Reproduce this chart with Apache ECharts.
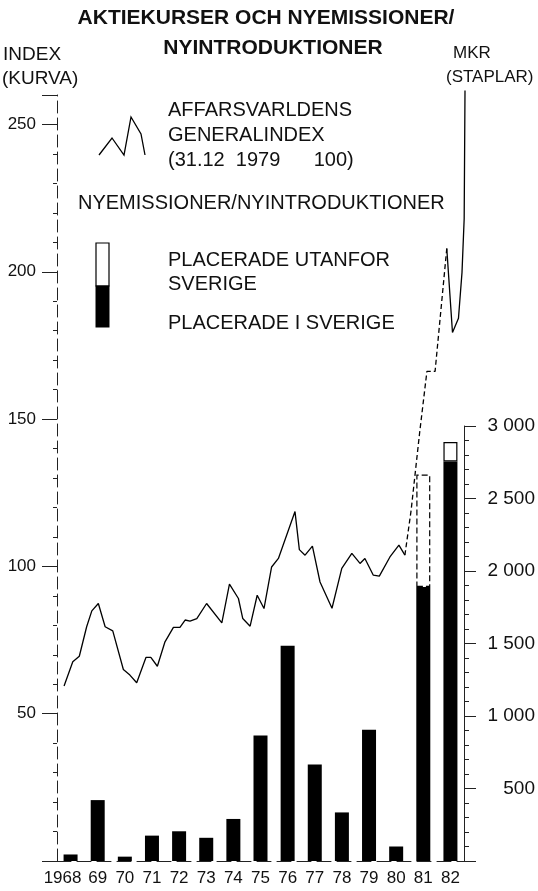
<!DOCTYPE html>
<html>
<head>
<meta charset="utf-8">
<script src="https://cdn.jsdelivr.net/npm/echarts@6/dist/echarts.min.js"></script>
<style>
  html, body { margin: 0; padding: 0; background: #fff; }
  #chart { width: 538px; height: 891px; }
</style>
</head>
<body>
<div id="chart"></div>
<script>
// staplar (MKR), placerade i / utanfor Sverige
const years = ['1968', '69', '70', '71', '72', '73', '74', '75', '76', '77', '78', '79', '80', '81', '82'];
const placedInSweden = [45, 420, 30, 175, 205, 160, 290, 865, 1485, 665, 335, 905, 100, 1890, 2755];
const placedAbroad = [0, 0, 0, 0, 0, 0, 0, 0, 0, 0, 0, 0, 0, 775, 135];

// Affarsvarldens generalindex (kurva), [ar, index]
const indexCurve = [
  [1968.26, 59.4], [1968.58, 67.6], [1968.82, 69.5], [1969.09, 79.5], [1969.28, 84.9],
  [1969.52, 87.4], [1969.77, 79.5], [1970.05, 78.1], [1970.44, 65.0], [1970.68, 63.1],
  [1970.93, 60.5], [1971.27, 69.1], [1971.45, 69.1], [1971.69, 66.1], [1971.97, 74.4],
  [1972.28, 79.3], [1972.52, 79.3], [1972.71, 81.8], [1972.89, 81.4], [1973.14, 82.3],
  [1973.50, 87.4], [1974.06, 80.8], [1974.34, 94.0], [1974.67, 89.1], [1974.83, 82.3],
  [1975.10, 79.7], [1975.36, 90.2], [1975.61, 85.7], [1975.89, 99.8], [1976.14, 102.7],
  [1976.75, 118.6], [1976.91, 105.7], [1977.12, 103.8], [1977.39, 106.9], [1977.67, 94.7],
  [1978.11, 85.8], [1978.47, 99.3], [1978.84, 104.4], [1979.14, 101.0], [1979.32, 102.7],
  [1979.63, 97.0], [1979.85, 96.7], [1980.24, 103.2], [1980.57, 107.2], [1980.79, 103.8],
  [1981.02, 119.1], [1981.33, 145.2], [1981.60, 166.2], [1981.90, 166.2], [1982.33, 207.9],
  [1982.54, 179.4], [1982.76, 184.2], [1982.89, 199.8], [1982.97, 218.1], [1983.00, 261.5]
];
const dashFrom = 1980.79, dashTo = 1982.33;

const FONT = '"Liberation Sans", Arial, sans-serif';
const chart = echarts.init(document.getElementById('chart'), null, { renderer: 'canvas' });

const gridL = 57, gridR = 73, gridB = 30;

function thousands(v) {
  const s = String(v);
  return s.length > 3 ? s.slice(0, s.length - 3) + ' ' + s.slice(-3) : s;
}

chart.setOption({
  backgroundColor: '#fff',
  animation: false,
  grid: [
    { left: gridL, right: gridR, top: 95, bottom: gridB },
    { left: gridL, right: gridR, top: 426, bottom: gridB }
  ],
  xAxis: [
    { type: 'value', gridIndex: 0, min: 1968, max: 1983, show: false },
    {
      type: 'category', gridIndex: 1,
      data: years.map((y, i) => i === 0 ? { value: y, textStyle: { padding: [0, 16, 0, 0] } } : y),
      axisLine: { lineStyle: { color: '#222', width: 1, type: [14, 6] } },
      axisTick: { show: false },
      axisLabel: { interval: 0, margin: 9, fontFamily: FONT, fontSize: 17, color: '#111' }
    }
  ],
  yAxis: [
    {
      type: 'value', gridIndex: 0, position: 'left', min: 0, max: 260, interval: 50,
      axisLine: { show: true, lineStyle: { color: '#222', width: 1, type: [12, 5] } },
      axisTick: { show: true, length: 15, lineStyle: { color: '#222' } },
      minorTick: { show: true, splitNumber: 5, length: 4, lineStyle: { color: '#222' } },
      splitLine: { show: false },
      axisLabel: {
        margin: 21, fontFamily: FONT, fontSize: 17, color: '#111',
        formatter: v => (v > 0 && v % 50 === 0) ? String(v) : ''
      }
    },
    {
      type: 'value', gridIndex: 1, position: 'right', min: 0, max: 3000, interval: 500,
      axisLine: { show: true, lineStyle: { color: '#222', width: 1 } },
      axisTick: { show: true, length: 12, lineStyle: { color: '#222' } },
      minorTick: { show: true, splitNumber: 5, length: 5, lineStyle: { color: '#222' } },
      splitLine: { show: false },
      axisLabel: {
        margin: 71, align: 'right', fontFamily: FONT, fontSize: 19, color: '#111',
        formatter: v => v > 0 ? thousands(v) : ''
      }
    }
  ],
  series: [
    {
      name: 'PLACERADE I SVERIGE', type: 'bar', xAxisIndex: 1, yAxisIndex: 1,
      stack: 'mkr', barWidth: 14, z: 2,
      itemStyle: { color: '#000' },
      data: placedInSweden
    },
    {
      name: 'PLACERADE UTANFOR SVERIGE', type: 'bar', xAxisIndex: 1, yAxisIndex: 1,
      stack: 'mkr', barWidth: 14, z: 2,
      itemStyle: { color: '#fff', borderColor: '#000', borderWidth: 1.2 },
      data: placedAbroad.map((v, i) => v === 0 ? '-' :
        (i === 13 ? { value: v, itemStyle: { borderType: [6, 3] } } : v))
    },
    {
      type: 'line', xAxisIndex: 0, yAxisIndex: 0, z: 4, symbol: 'none', clip: false,
      lineStyle: { color: '#000', width: 1.3 },
      data: indexCurve.filter(p => p[0] <= dashFrom)
    },
    {
      type: 'line', xAxisIndex: 0, yAxisIndex: 0, z: 4, symbol: 'none', clip: false,
      lineStyle: { color: '#000', width: 1.3, type: [5, 3] },
      data: indexCurve.filter(p => p[0] >= dashFrom && p[0] <= dashTo)
    },
    {
      type: 'line', xAxisIndex: 0, yAxisIndex: 0, z: 4, symbol: 'none', clip: false,
      lineStyle: { color: '#000', width: 1.3 },
      data: indexCurve.filter(p => p[0] >= dashTo)
    }
  ],
  graphic: [
    // title
    { type: 'text', x: 266, y: 18, style: { text: 'AKTIEKURSER OCH NYEMISSIONER/', font: 'bold 21px ' + FONT, fill: '#111', align: 'center', verticalAlign: 'middle' } },
    { type: 'text', x: 273, y: 48, style: { text: 'NYINTRODUKTIONER', font: 'bold 21px ' + FONT, fill: '#111', align: 'center', verticalAlign: 'middle' } },
    // axis names
    { type: 'text', left: 3, top: 45, style: { text: 'INDEX', font: '19px ' + FONT, fill: '#111' } },
    { type: 'text', left: 2, top: 69, style: { text: '(KURVA)', font: '19px ' + FONT, fill: '#111' } },
    { type: 'text', left: 453, top: 45, style: { text: 'MKR', font: '17px ' + FONT, fill: '#111' } },
    { type: 'text', left: 446, top: 69, style: { text: '(STAPLAR)', font: '17px ' + FONT, fill: '#111' } },
    // legend: index curve
    {
      type: 'polyline', z: 10,
      shape: { points: [[99, 155], [112, 138], [124, 155], [131, 117], [141, 134], [145, 155]] },
      style: { stroke: '#000', lineWidth: 1.3, fill: null }
    },
    { type: 'text', left: 168, top: 100, style: { text: 'AFFARSVARLDENS', font: '20px ' + FONT, fill: '#111' } },
    { type: 'text', left: 168, top: 125, style: { text: 'GENERALINDEX', font: '20px ' + FONT, fill: '#111' } },
    { type: 'text', left: 168, top: 150, style: { text: '(31.12  1979      100)', font: '20px ' + FONT, fill: '#111' } },
    { type: 'text', left: 78, top: 193, style: { text: 'NYEMISSIONER/NYINTRODUKTIONER', font: '20px ' + FONT, fill: '#111' } },
    // legend: bar glyph
    {
      type: 'rect', z: 10, shape: { x: 96, y: 243, width: 13, height: 43 },
      style: { fill: '#fff', stroke: '#000', lineWidth: 1.2 }
    },
    {
      type: 'rect', z: 11, shape: { x: 95.5, y: 285.5, width: 14, height: 42 },
      style: { fill: '#000' }
    },
    { type: 'text', left: 168, top: 250, style: { text: 'PLACERADE UTANFOR', font: '20px ' + FONT, fill: '#111' } },
    { type: 'text', left: 168, top: 274, style: { text: 'SVERIGE', font: '20px ' + FONT, fill: '#111' } },
    { type: 'text', left: 168, top: 313, style: { text: 'PLACERADE I SVERIGE', font: '20px ' + FONT, fill: '#111' } }
  ]
});
</script>
</body>
</html>
